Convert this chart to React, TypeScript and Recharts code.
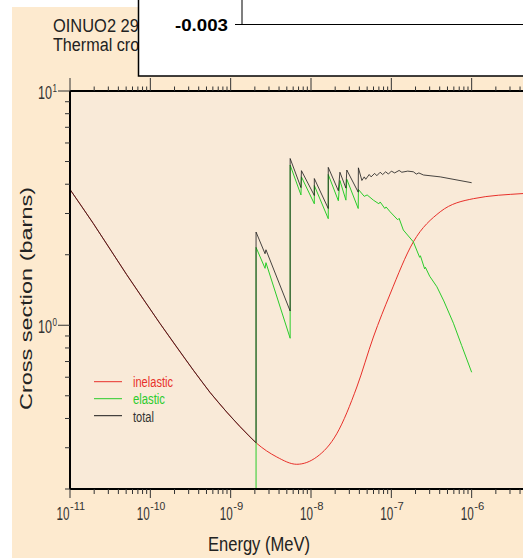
import React from "react";
import { CartesianGrid, Legend, Line, LineChart, XAxis, YAxis } from "recharts";

// energies in MeV, cross sections in barns
const inelasticE = [
  1e-11, 1.95e-11, 5.08e-11, 1.32e-10, 3.43e-10, 5.53e-10, 8.93e-10, 1.31e-9, 2.07e-9, 3.75e-9,
  6.65e-9, 1.18e-8, 2.09e-8, 3.72e-8, 5.98e-8, 9.66e-8, 1.88e-7, 4.06e-7, 1.05e-6, 4.38e-6, 1e-5
];
const inelasticXs = [
  3.8, 2.72, 1.644, 1.017, 0.643, 0.517, 0.426, 0.369, 0.315, 0.274,
  0.255, 0.274, 0.344, 0.545, 0.891, 1.36, 2.27, 3.05, 3.47, 3.65, 3.7
];

const elasticE = [
  2.07e-9, 2.07e-9, 2.68e-9, 2.75e-9, 5.5e-9, 5.5e-9, 7.5e-9, 7.6e-9, 1.1e-8, 1.1e-8,
  1.64e-8, 1.64e-8, 2.19e-8, 2.29e-8, 2.72e-8, 2.79e-8, 3.87e-8, 3.89e-8, 4.6e-8, 5.0e-8,
  5.98e-8, 7.0e-8, 7.26e-8, 8.3e-8, 8.6e-8, 9.66e-8, 1.2e-7, 1.25e-7, 1.41e-7, 1.88e-7,
  2.25e-7, 2.3e-7, 2.6e-7, 2.65e-7, 3.0e-7, 3.69e-7, 4.5e-7, 5.93e-7, 7.5e-7, 1e-6
];
const elasticXs = [
  0.05, 2.15, 1.75, 1.85, 0.88, 4.83, 3.6, 4.3, 3.3, 3.95,
  2.85, 4.4, 3.4, 4.15, 3.42, 4.2, 3.15, 3.8, 3.55, 3.6,
  3.42, 3.3, 3.36, 3.15, 3.2, 3.05, 2.82, 2.86, 2.55, 2.27,
  1.95, 1.98, 1.74, 1.77, 1.62, 1.46, 1.27, 1.02, 0.82, 0.63
];

const totalE = [
  1e-11, 1.95e-11, 5.08e-11, 1.32e-10, 3.43e-10, 5.53e-10, 8.93e-10, 1.31e-9, 2.07e-9, 2.07e-9,
  2.68e-9, 2.75e-9, 5.5e-9, 5.5e-9, 7.5e-9, 7.6e-9, 1.1e-8, 1.1e-8, 1.64e-8, 1.64e-8,
  2.19e-8, 2.29e-8, 2.72e-8, 2.79e-8, 3.87e-8, 3.89e-8, 4.3e-8, 4.6e-8, 4.8e-8, 5.3e-8,
  5.6e-8, 6.2e-8, 6.6e-8, 7.26e-8, 7.8e-8, 8.5e-8, 9.2e-8, 1e-7, 1.1e-7, 1.25e-7,
  1.35e-7, 1.6e-7, 1.88e-7, 2.05e-7, 2.2e-7, 2.51e-7, 4.06e-7, 1e-6
];
const totalXs = [
  3.8, 2.72, 1.644, 1.017, 0.643, 0.517, 0.426, 0.369, 0.315, 2.5,
  2.02, 2.1, 1.15, 5.15, 3.87, 4.57, 3.58, 4.23, 3.15, 4.72,
  3.75, 4.5, 3.85, 4.6, 3.7, 4.7, 4.15, 4.3, 4.2, 4.4,
  4.3, 4.45, 4.35, 4.5, 4.4, 4.52, 4.42, 4.55, 4.47, 4.58,
  4.5, 4.55, 4.52, 4.42, 4.47, 4.38, 4.3, 4.06
];

const seriesOrder = ["inelastic", "elastic", "total"];
const xExponents = [-11, -10, -9, -8, -7, -6, -5];
const xLabelExponents = [-11, -10, -9, -8, -7, -6];
const yExponents = [-1, 0, 1];
const minorSteps = [2, 3, 4, 5, 6, 7, 8, 9];

const toPoints = (es: number[], vs: number[]) => es.map((e, i) => ({ e, v: vs[i] }));
const inelastic = toPoints(inelasticE, inelasticXs);
const elastic = toPoints(elasticE, elasticXs);
const total = toPoints(totalE, totalXs);

const decadeTicks = (exps: number[]) =>
  exps.flatMap((p, i) => (i === exps.length - 1 ? [10 ** p] : [10 ** p, ...minorSteps.map((m) => m * 10 ** p)]));
const xTicks = decadeTicks(xExponents);
const yTicks = decadeTicks(yExponents).filter((v) => v >= 0.2 - 1e-9);

const FONT = "'Liberation Sans', Arial, Helvetica, sans-serif";
const TXT = "#333";

const decade = (v: number) => {
  const lg = Math.log10(v);
  const p = Math.round(lg);
  return Math.abs(lg - p) < 1e-6 ? p : null;
};

function BottomTick({ x, y, payload }: any) {
  const p = decade(payload.value);
  if (p === null) return <line x1={x} x2={x} y1={y} y2={y + 5} stroke={TXT} />;
  if (!xLabelExponents.includes(p)) return <line x1={x} x2={x} y1={y} y2={y + 9} stroke={TXT} />;
  const sup = String(p);
  const supW = 5 * sup.length;
  const start = x - (13 + supW) / 2 + 0.5;
  return (
    <g fontFamily={FONT} fill={TXT}>
      <line x1={x} x2={x} y1={y} y2={y + 9} stroke={TXT} />
      <text x={start} y={y + 31}>
        <tspan fontSize={19} textLength={13} lengthAdjust="spacingAndGlyphs">10</tspan>
        <tspan x={start + 13.5} dy={-10} fontSize={11.5} textLength={supW} lengthAdjust="spacingAndGlyphs">{sup}</tspan>
      </text>
    </g>
  );
}

function TopTick({ x, y, payload }: any) {
  const p = decade(payload.value);
  return <line x1={x} x2={x} y1={y} y2={y - (p === null ? 4.5 : 13)} stroke={TXT} />;
}

function LeftTick({ x, y, payload }: any) {
  const p = decade(payload.value);
  if (p === null) return <line x1={x} x2={x - 5} y1={y} y2={y} stroke={TXT} />;
  return (
    <g fontFamily={FONT} fill={TXT}>
      <line x1={x} x2={x - 12} y1={y} y2={y} stroke={TXT} />
      <text x={x - 32} y={y + 7.5}>
        <tspan fontSize={18} textLength={14} lengthAdjust="spacingAndGlyphs">10</tspan>
        <tspan x={x - 17.5} dy={-7} fontSize={10.5} textLength={4.5} lengthAdjust="spacingAndGlyphs">{String(p)}</tspan>
      </text>
    </g>
  );
}

const legendWidths: Record<string, number> = { inelastic: 40, elastic: 32, total: 21 };

function LegendBox({ payload }: any) {
  const items = [...(payload || [])].sort((a: any, b: any) => seriesOrder.indexOf(a.value) - seriesOrder.indexOf(b.value));
  return (
    <svg width={110} height={60} style={{ overflow: "visible" }}>
      {items.map((item: any, i: number) => (
        <g key={item.value}>
          <line x1={4} x2={32} y1={11.7 + i * 17} y2={11.7 + i * 17} stroke={item.color} strokeWidth={1} />
          <text
            x={43}
            y={17 + i * 17.3}
            fill={item.value === "total" ? TXT : item.color}
            fontFamily={FONT}
            fontSize={14}
            textLength={legendWidths[item.value]}
            lengthAdjust="spacingAndGlyphs"
          >
            {item.value}
          </text>
        </g>
      ))}
    </svg>
  );
}

export default function App() {
  const frame = { stroke: "#000", strokeWidth: 2 };
  return (
    <div style={{ position: "absolute", left: 0, top: 0, width: 523, height: 558, overflow: "hidden", background: "#fff" }}>
      <div style={{ position: "absolute", left: 12, top: 7, right: 0, bottom: 0, background: "#FDEACF" }} />
      <div style={{ position: "absolute", left: 0, top: 0 }}>
        <LineChart width={560} height={558} margin={{ top: 71, right: 8, bottom: 39, left: 10 }}>
          <CartesianGrid horizontal={false} vertical={false} fill="#F9EAD8" />
          <XAxis
            dataKey="e"
            type="number"
            scale="log"
            domain={[1e-11, 1e-5]}
            allowDataOverflow
            ticks={xTicks}
            interval={0}
            height={30}
            tickSize={0}
            tickMargin={0}
            tickLine={false}
            axisLine={frame}
            tick={<BottomTick />}
          />
          <XAxis
            xAxisId="top"
            orientation="top"
            dataKey="e"
            type="number"
            scale="log"
            domain={[1e-11, 1e-5]}
            allowDataOverflow
            ticks={xTicks}
            interval={0}
            height={20}
            tickSize={0}
            tickMargin={0}
            tickLine={false}
            axisLine={frame}
            tick={<TopTick />}
          />
          <YAxis
            type="number"
            scale="log"
            domain={[0.2, 10]}
            allowDataOverflow
            ticks={yTicks}
            interval={0}
            width={60}
            tickSize={0}
            tickMargin={0}
            tickLine={false}
            axisLine={frame}
            tick={<LeftTick />}
          />
          <Legend
            layout="vertical"
            align="center"
            verticalAlign="middle"
            content={<LegendBox />}
            wrapperStyle={{ left: 90, top: 370, width: 110, height: 60 }}
          />
          <Line data={inelastic} dataKey="v" name="inelastic" type="monotone" stroke="#E8302A" strokeWidth={1} dot={false} isAnimationActive={false} />
          <Line data={elastic} dataKey="v" name="elastic" type="linear" stroke="#2BCC2B" strokeWidth={1} dot={false} isAnimationActive={false} />
          <Line data={total} dataKey="v" name="total" type="linear" stroke="#1a1a1a" strokeOpacity={0.8} strokeWidth={1} dot={false} isAnimationActive={false} />
        </LineChart>
      </div>
      <svg width={523} height={558} style={{ position: "absolute", left: 0, top: 0, pointerEvents: "none" }} fontFamily={FONT}>
        <text x={53} y={32} fontSize={18} fill="#222" textLength={106} lengthAdjust="spacingAndGlyphs">OINUO2 293K</text>
        <text x={53} y={51} fontSize={18} fill="#222" textLength={166} lengthAdjust="spacingAndGlyphs">Thermal cross sections</text>
        <rect x={138.5} y={-5} width={420} height={81} fill="#fff" stroke="#000" strokeWidth={1.5} />
        <text x={175} y={31} fontSize={17} fontWeight="bold" fill="#000" textLength={53} lengthAdjust="spacingAndGlyphs">-0.003</text>
        <line x1={235} x2={242} y1={24.5} y2={24.5} stroke="#000" />
        <rect x={242} y={-5} width={400} height={29.5} fill="none" stroke="#000" />
        <text x={208} y={551} fontSize={20} fill="#222" textLength={102} lengthAdjust="spacingAndGlyphs">Energy (MeV)</text>
        <text transform="translate(32,298.5) rotate(-90)" textAnchor="middle" fontSize={17} fill="#222" textLength={223} lengthAdjust="spacingAndGlyphs">
          Cross section (barns)
        </text>
      </svg>
    </div>
  );
}
